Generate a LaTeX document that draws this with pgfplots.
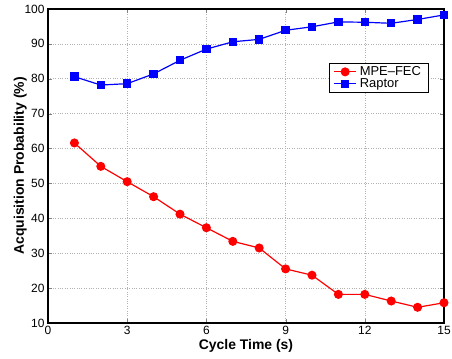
\documentclass[border=0pt]{standalone}
\usepackage{fontspec}
\setmainfont{Liberation Sans}
\usepackage{pgfplots}
\pgfplotsset{compat=1.18}
\begin{document}
\begin{tikzpicture}[x=1bp,y=1bp]
\begin{axis}[
  scale only axis,
  width=396bp, height=314bp,
  xmin=0, xmax=15, ymin=10, ymax=100,
  xtick={0,3,6,9,12,15},
  ytick={10,20,30,40,50,60,70,80,90,100},
  /pgf/number format/assume math mode=true,
  tick label style={font=\fontsize{12}{13}\selectfont},
  label style={font=\bfseries\fontsize{14}{15}\selectfont},
  xlabel={Cycle Time (s)},
  ylabel={Acquisition Probability (\%)},
  xlabel style={yshift=2bp},
  ylabel style={yshift=-9bp},
  tick align=inside,
  tick pos=both,
  major tick length=4bp,
  axis line style={line width=1.3pt},
  grid=major,
  major grid style={gray!60, dotted, line width=0.6pt},
  legend style={at={(0.71,0.829)}, anchor=north west, draw=black, line width=0.8pt,
    font=\fontsize{13}{14}\selectfont, inner xsep=4bp, inner ysep=1.5bp, row sep=-2.5bp,
    nodes={inner xsep=3bp}},
  legend cell align=left,
  legend image code/.code={\draw[mark repeat=2,mark phase=2] plot coordinates {(0bp,0bp) (11bp,0bp) (22bp,0bp)};},
]
\addplot[red, line width=1.2pt, mark=*, mark size=3.9bp] coordinates {
(1,61.6) (2,54.9) (3,50.5) (4,46.2) (5,41.2) (6,37.3) (7,33.4) (8,31.5)
(9,25.5) (10,23.7) (11,18.2) (12,18.2) (13,16.3) (14,14.5) (15,15.8)};
\addlegendentry{MPE--FEC}
\addplot[blue, line width=1.2pt, mark=square*, mark size=3.6bp] coordinates {
(1,80.6) (2,78.2) (3,78.6) (4,81.4) (5,85.3) (6,88.5) (7,90.6) (8,91.3)
(9,93.9) (10,94.9) (11,96.3) (12,96.2) (13,95.9) (14,97.0) (15,98.3)};
\addlegendentry{Raptor}
\end{axis}
\pgfresetboundingbox
\path ([shift={(-48bp,-36bp)}]current axis.south west) rectangle ([shift={(8bp,9bp)}]current axis.north east);
\end{tikzpicture}
\end{document}
